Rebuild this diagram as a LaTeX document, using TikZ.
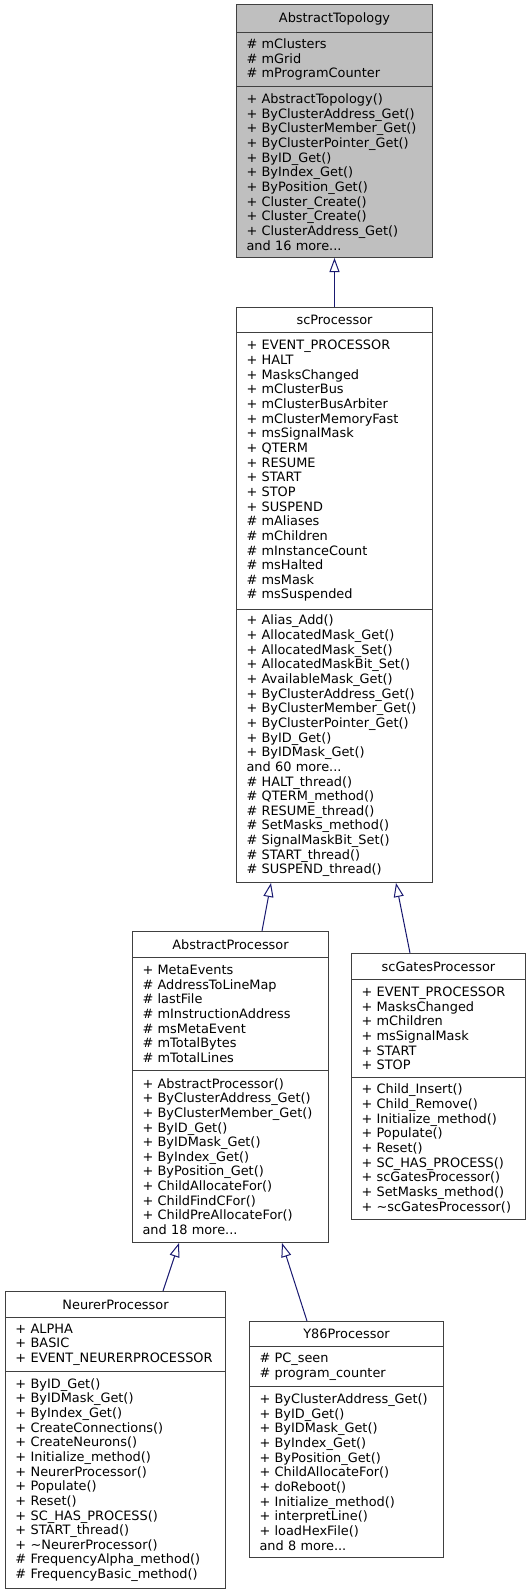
\documentclass[tikz,border=0pt]{standalone}
\usepackage{fontspec}
\setmainfont{DejaVu Sans}
\usetikzlibrary{arrows.meta,calc}
\definecolor{edgeblue}{HTML}{191970}
\definecolor{boxline}{HTML}{404040}
\definecolor{rootfill}{HTML}{BFBFBF}
\begin{document}
\begin{tikzpicture}[x=1pt,y=-1pt,
  sec/.style={draw=boxline, line width=1pt, anchor=north west, inner xsep=10pt, inner ysep=0pt,
    align=left, font=\fontsize{12.9}{14.65}\selectfont},
  ttl/.style={sec, align=center},
  root/.style={fill=rootfill},
  inh/.style={draw=edgeblue, line width=1pt, -{Triangle[open,length=14pt,width=10pt]}}]
\useasboundingbox (0,0) rectangle (530,1593);

% AbstractTopology
\node[ttl, root, text width=176pt, minimum height=28pt] (at_t) at (236,4) {AbstractTopology};
\node[sec, root, text width=176pt, minimum height=54pt] (at_a) at (236,32) {\# mClusters\\\# mGrid\\\# mProgramCounter};
\node[sec, root, text width=176pt, minimum height=171pt] (at_m) at (236,86) {+ AbstractTopology()\\+ ByClusterAddress\_Get()\\+ ByClusterMember\_Get()\\+ ByClusterPointer\_Get()\\+ ByID\_Get()\\+ ByIndex\_Get()\\+ ByPosition\_Get()\\+ Cluster\_Create()\\+ Cluster\_Create()\\+ ClusterAddress\_Get()\\and 16 more...};

% scProcessor
\node[ttl, text width=176pt, minimum height=25pt] (sp_t) at (236,307) {scProcessor};
\node[sec, text width=176pt, minimum height=277pt] (sp_a) at (236,332) {+ EVENT\_PROCESSOR\\+ HALT\\+ MasksChanged\\+ mClusterBus\\+ mClusterBusArbiter\\+ mClusterMemoryFast\\+ msSignalMask\\+ QTERM\\+ RESUME\\+ START\\+ STOP\\+ SUSPEND\\\# mAliases\\\# mChildren\\\# mInstanceCount\\\# msHalted\\\# msMask\\\# msSuspended};
\node[sec, text width=176pt, minimum height=273pt] (sp_m) at (236,609) {+ Alias\_Add()\\+ AllocatedMask\_Get()\\+ AllocatedMask\_Set()\\+ AllocatedMaskBit\_Set()\\+ AvailableMask\_Get()\\+ ByClusterAddress\_Get()\\+ ByClusterMember\_Get()\\+ ByClusterPointer\_Get()\\+ ByID\_Get()\\+ ByIDMask\_Get()\\and 60 more...\\\# HALT\_thread()\\\# QTERM\_method()\\\# RESUME\_thread()\\\# SetMasks\_method()\\\# SignalMaskBit\_Set()\\\# START\_thread()\\\# SUSPEND\_thread()};

% AbstractProcessor
\node[ttl, text width=176pt, minimum height=26pt] (ap_t) at (132,931) {AbstractProcessor};
\node[sec, text width=176pt, minimum height=113pt] (ap_a) at (132,957) {+ MetaEvents\\\# AddressToLineMap\\\# lastFile\\\# mInstructionAddress\\\# msMetaEvent\\\# mTotalBytes\\\# mTotalLines};
\node[sec, text width=176pt, minimum height=172pt] (ap_m) at (132,1070) {+ AbstractProcessor()\\+ ByClusterAddress\_Get()\\+ ByClusterMember\_Get()\\+ ByID\_Get()\\+ ByIDMask\_Get()\\+ ByIndex\_Get()\\+ ByPosition\_Get()\\+ ChildAllocateFor()\\+ ChildFindCFor()\\+ ChildPreAllocateFor()\\and 18 more...};

% scGatesProcessor
\node[ttl, text width=154pt, minimum height=26pt] (sg_t) at (351,953) {scGatesProcessor};
\node[sec, text width=154pt, minimum height=98pt] (sg_a) at (351,979) {+ EVENT\_PROCESSOR\\+ MasksChanged\\+ mChildren\\+ msSignalMask\\+ START\\+ STOP};
\node[sec, text width=154pt, minimum height=142pt] (sg_m) at (351,1077) {+ Child\_Insert()\\+ Child\_Remove()\\+ Initialize\_method()\\+ Populate()\\+ Reset()\\+ SC\_HAS\_PROCESS()\\+ scGatesProcessor()\\+ SetMasks\_method()\\+ \textasciitilde scGatesProcessor()};

% NeurerProcessor
\node[ttl, text width=200pt, minimum height=26pt] (np_t) at (5,1291) {NeurerProcessor};
\node[sec, text width=200pt, minimum height=54pt] (np_a) at (5,1317) {+ ALPHA\\+ BASIC\\+ EVENT\_NEURERPROCESSOR};
\node[sec, text width=200pt, minimum height=217pt] (np_m) at (5,1371) {+ ByID\_Get()\\+ ByIDMask\_Get()\\+ ByIndex\_Get()\\+ CreateConnections()\\+ CreateNeurons()\\+ Initialize\_method()\\+ NeurerProcessor()\\+ Populate()\\+ Reset()\\+ SC\_HAS\_PROCESS()\\+ START\_thread()\\+ \textasciitilde NeurerProcessor()\\\# FrequencyAlpha\_method()\\\# FrequencyBasic\_method()};

% Y86Processor
\node[ttl, text width=174pt, minimum height=25pt] (yp_t) at (249,1321) {Y86Processor};
\node[sec, text width=174pt, minimum height=40pt] (yp_a) at (249,1346) {\# PC\_seen\\\# program\_counter};
\node[sec, text width=174pt, minimum height=171pt] (yp_m) at (249,1386) {+ ByClusterAddress\_Get()\\+ ByID\_Get()\\+ ByIDMask\_Get()\\+ ByIndex\_Get()\\+ ByPosition\_Get()\\+ ChildAllocateFor()\\+ doReboot()\\+ Initialize\_method()\\+ interpretLine()\\+ loadHexFile()\\and 8 more...};

% inheritance connectors
\draw[inh] (sp_t.north) -- (at_m.south);
\draw[inh] ($(ap_t.north west)+(130,0)$) -- ($(sp_m.south west)+(35,0)$);
\draw[inh] ($(sg_t.north west)+(59,0)$) -- ($(sp_m.south west)+(160,0)$);
\draw[inh] ($(np_t.north west)+(158,0)$) -- ($(ap_m.south west)+(47,0)$);
\draw[inh] ($(yp_t.north west)+(58,0)$) -- ($(ap_m.south west)+(150,0)$);
\end{tikzpicture}
\end{document}
